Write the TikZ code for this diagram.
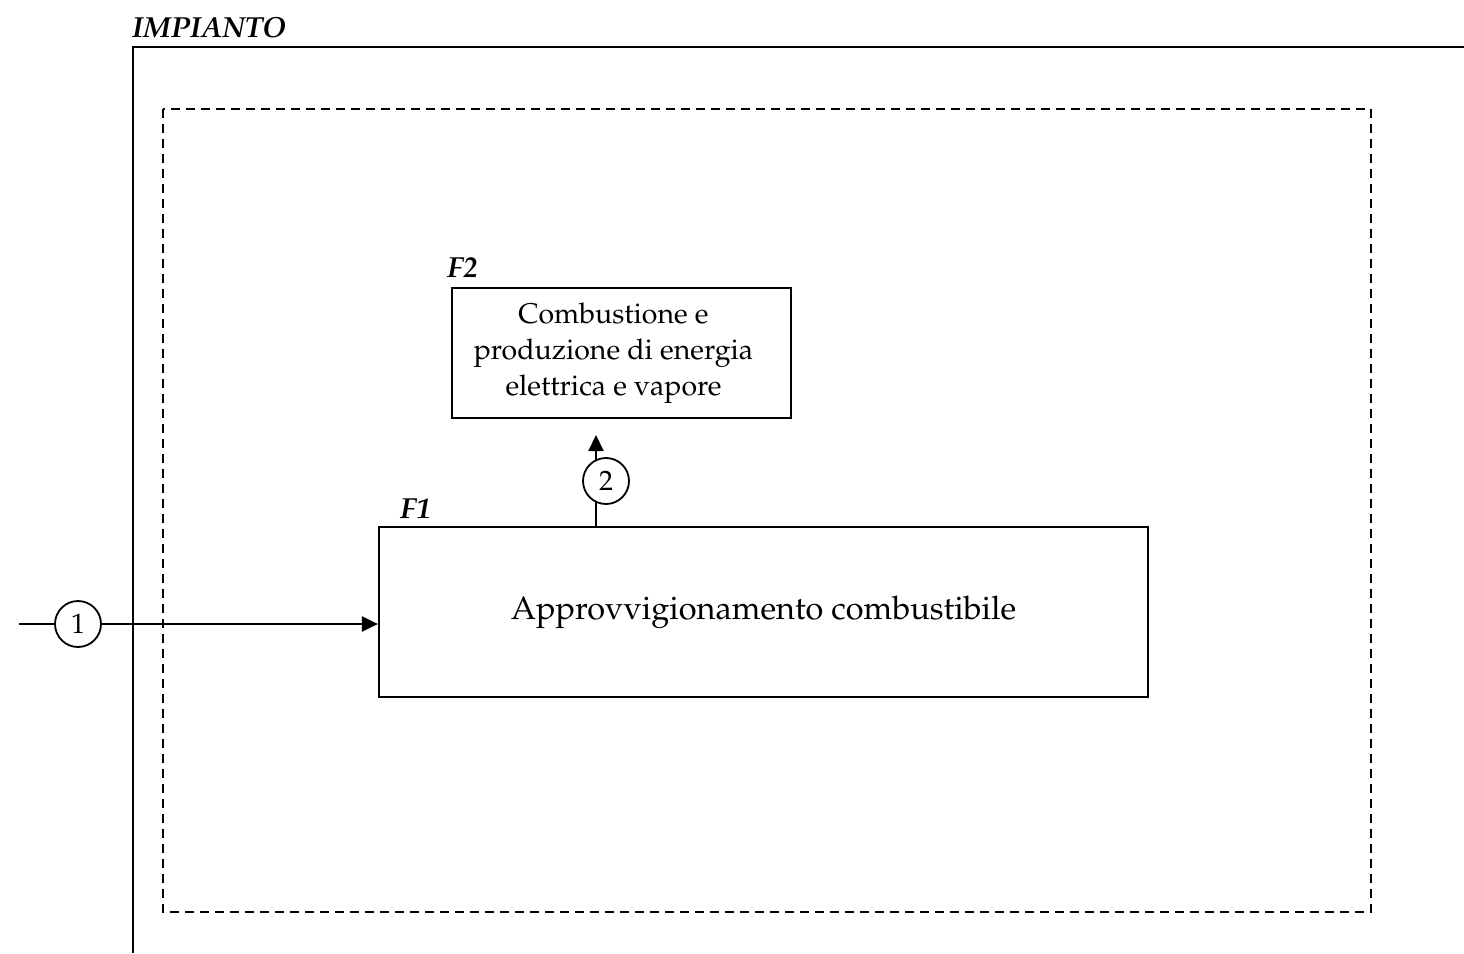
\documentclass[tikz,border=0pt]{standalone}
\usepackage[T1]{fontenc}
\usepackage{mathpazo}
\usetikzlibrary{arrows.meta}

\tikzset{
  framelne/.style={line width=2.8pt},
  dashbox/.style={line width=2.2pt, dash pattern=on 9pt off 6pt},
  funcbox/.style={draw, line width=2.2pt, rectangle, inner sep=0pt, align=center},
  flowtag/.style={draw, circle, line width=1.8pt, fill=white, minimum size=46pt, inner sep=0pt,
    font=\fontsize{28}{30}\selectfont},
  flow/.style={line width=2.2pt, -{Triangle[length=16pt,width=15pt]}},
  plainflow/.style={line width=2.2pt},
  tag/.style={font=\fontsize{29}{32}\selectfont\bfseries\itshape, inner sep=0pt},
  smalltxt/.style={font=\fontsize{28.5}{36}\selectfont},
  bigtxt/.style={font=\fontsize{32.5}{40}\selectfont}
}

\begin{document}
\begin{tikzpicture}[x=1pt,y=-1pt]
  \useasboundingbox (0,0) rectangle (1464,953);

  % plant boundary (open frame) and its title
  \draw[framelne] (133,953) -- (133,47) -- (1464,47);
  \node[tag, anchor=base west] (impianto) at (132,37) {IMPIANTO};

  % dashed inner boundary
  \draw[dashbox] (163,109) rectangle (1371,912);

  % functional blocks
  \node[funcbox, bigtxt, minimum width=769pt, minimum height=170pt] (f1) at (763.5,612)
    {\raisebox{8pt}{Approvvigionamento combustibile}};
  \node[funcbox, smalltxt, minimum width=339pt, minimum height=130pt] (f2) at (621.5,353)
    {\raisebox{-2pt}{\parbox{300pt}{\centering Combustione e\\produzione di energia\\elettrica e vapore}}\hspace{16pt}};
  \node[tag, anchor=base west] (f1lbl) at (400,518) {F1};
  \node[tag, anchor=base west] (f2lbl) at (447,277) {F2};

  % flow 1: fuel entering the plant
  \coordinate (in1) at (19,624);
  \node[flowtag] (c1) at (78,624) {1};
  \draw[plainflow] (in1) -- (c1);
  \draw[flow] (c1) -- (c1 -| f1.west);

  % flow 2: fuel delivered to combustion
  \coordinate (up2) at (596,435);
  \draw[flow] (f1.north -| up2) -- (up2);
  \node[flowtag] (c2) at (606,481) {2};
\end{tikzpicture}
\end{document}
